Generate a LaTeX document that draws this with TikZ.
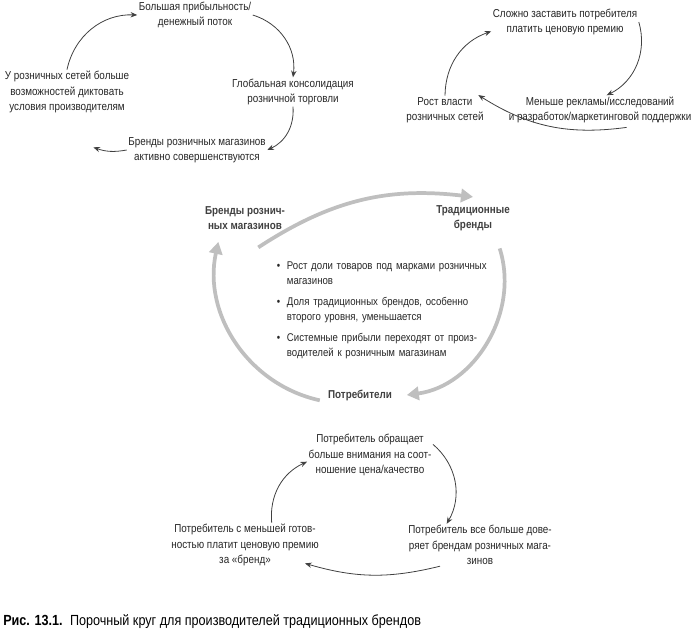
\documentclass[tikz,border=0pt]{standalone}
\usepackage{fontspec}
\setmainfont[FakeStretch=0.86]{Liberation Sans}
\usetikzlibrary{arrows.meta,positioning}
\tikzset{
  txt/.style={align=center,font=\fontsize{8.6}{11.5}\selectfont,text=black!85,inner sep=1pt},
  hd/.style={txt,font=\fontsize{8.6}{11.5}\selectfont\bfseries,text=black!75},
  thin/.style={draw=black!75,line width=0.6pt,-{Stealth[length=5pt,width=4pt]}},
  big/.style={draw=black!25,line width=2.8pt,-{Triangle[length=9pt,width=10pt]}}
}
\begin{document}
\begin{tikzpicture}[x=0.75pt,y=-0.75pt]
\useasboundingbox (0,0) rectangle (700,636);

% Top-left cycle
\node[txt] (a1) at (195,15) {Большая прибыльность/\\денежный поток};
\node[txt] (a2) at (293,92) {Глобальная консолидация\\розничной торговли};
\node[txt] (a3) at (197,150) {Бренды розничных магазинов\\активно совершенствуются};
\node[txt] (a4) at (67,92) {У розничных сетей больше\\возможностей диктовать\\условия производителям};
\draw[thin] (a1.east) to[bend left=40] (a2.north);
\draw[thin] (a2.south) to[bend left=35] (a3.east);
\draw[thin] (a3.west) to[bend left=15] ([xshift=-25pt,yshift=2pt]a3.west);
\draw[thin] (a4.north) to[bend left=40] (a1.west);

% Top-right cycle
\node[txt] (b1) at (565,22) {Сложно заставить потребителя\\платить ценовую премию};
\node[txt] (b2) at (600,110) {Меньше рекламы/исследований\\и разработок/маркетинговой поддержки};
\node[txt] (b3) at (445,110) {Рост власти\\розничных сетей};
\draw[thin] (b1.east) to[bend left=40] ([xshift=5pt]b2.north);
\draw[thin] ([xshift=20pt,yshift=-2pt]b2.south) to[bend left=20] ([xshift=25pt,yshift=22pt]b3.south);
\draw[thin] (b3.north) to[bend left=35] ([yshift=-7pt]b1.west);

% Central cycle
\node[hd] (rb) at (245,218) {Бренды рознич-\\ных магазинов};
\node[hd] (tb) at (473,218) {Традиционные\\бренды};
\node[hd] (cs) at (360,395) {Потребители};
\draw[big] ([xshift=10pt,yshift=-32pt]rb.north) to[bend left=20] ([yshift=5pt]tb.north);
\draw[big] ([xshift=20pt,yshift=-12pt]tb.south) to[bend left=50] ([xshift=10pt]cs.east);
\draw[big] ([xshift=-5pt,yshift=-4pt]cs.west) to[bend left=45] ([xshift=-20pt,yshift=-8pt]rb.south);
\node[txt,align=left,text width=182pt,anchor=north west,font=\fontsize{8.4}{11}\selectfont] (lst) at (252,243) {%
  \begin{itemize}\setlength{\itemsep}{1pt}\setlength{\parsep}{0pt}\setlength{\topsep}{0pt}
  \setlength{\leftmargin}{15pt}
  \item Рост доли товаров под марками розничных\\магазинов
  \item Доля традиционных брендов, особенно\\второго уровня, уменьшается
  \item Системные прибыли переходят от произ-\\водителей к розничным магазинам
  \end{itemize}};

% Bottom cycle
\node[txt] (c1) at (370,455) {Потребитель обращает\\больше внимания на соот-\\ношение цена/качество};
\node[txt] (c2) at (480,545) {Потребитель все больше дове-\\ряет брендам розничных мага-\\зинов};
\node[txt] (c3) at (245,545) {Потребитель с меньшей готов-\\ностью платит ценовую премию\\за «бренд»};
\draw[thin] ([yshift=8pt]c1.east) to[bend left=40] ([xshift=-25pt]c2.north);
\draw[thin] ([xshift=-30pt]c2.south) to[bend left=15] ([xshift=45pt,yshift=3pt]c3.south);
\draw[thin] ([xshift=20pt]c3.north) to[bend left=35] ([yshift=-5pt]c1.west);

% Caption
\node[anchor=west,font=\fontsize{11}{13}\selectfont,inner sep=0pt] (cap) at (3,622)
  {\textbf{Рис. 13.1.}\enspace Порочный круг для производителей традиционных брендов};
\end{tikzpicture}
\end{document}
